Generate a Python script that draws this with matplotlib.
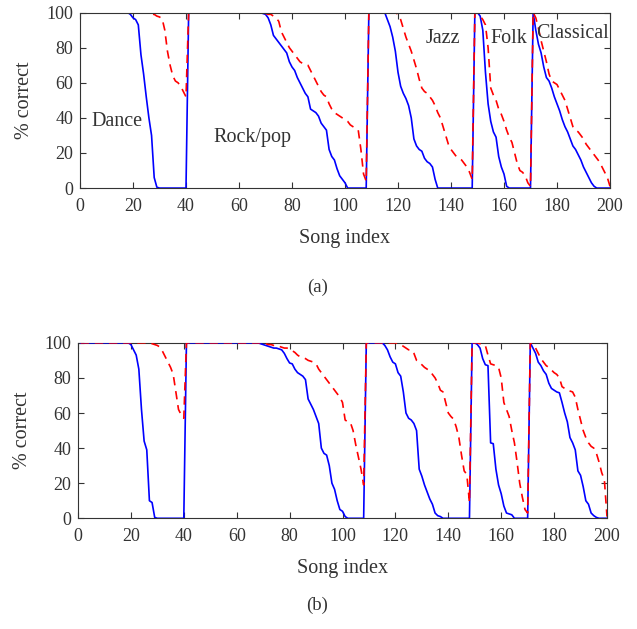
import numpy as np
import matplotlib.pyplot as plt

plt.rcParams['font.family'] = ['Liberation Serif', 'DejaVu Serif']
plt.rcParams['text.color'] = '#333333'
plt.rcParams['axes.labelcolor'] = '#333333'
plt.rcParams['xtick.labelcolor'] = '#333333'
plt.rcParams['ytick.labelcolor'] = '#333333'

# song index 1..200, genres in blocks
genres = ["Dance", "Rock/pop", "Jazz", "Folk", "Classical"]
genre_sizes = [40, 68, 40, 22, 30]

# (a) % correct per song, sorted inside each genre
blue_a_dance = [100] * 18 + [99, 97, 96, 93, 76, 65, 52, 40, 30, 6, 0.5] + [0] * 11
red_a_dance = [100] * 26 + [99, 99, 98, 97.5, 96.5, 90, 78, 70, 64, 61, 60, 58, 55, 52]
blue_a_rock = [100] * 28 + [99.5, 99, 97, 93, 87, 85, 83, 81, 79, 77, 72, 69, 67, 63, 60,
                            57, 54, 52, 45, 44, 43, 41, 37, 35, 33, 22, 18, 16, 11, 7,
                            5, 3, 0] + [0] * 7
red_a_rock = [100] * 29 + [99.5, 99, 99, 98, 97, 95, 89, 86, 83, 80, 78, 76, 74, 72, 71,
                           70.5, 70, 67, 64, 61, 58, 55, 53, 52, 48, 45, 43, 42, 41, 40,
                           39, 38, 36, 35, 34, 33, 22, 8, 4]
blue_a_jazz = [100] * 7 + [96, 92, 86, 78, 66, 58, 54, 51, 47, 40, 28, 24, 22, 21, 17,
                           15, 14, 12, 5, 0] + [0] * 13
red_a_jazz = [100] * 11 + [99, 96, 91, 86, 82, 78, 73, 68, 62, 57, 55, 54, 52, 50, 47,
                           43, 40, 35, 30, 25, 22, 20, 18, 17, 16, 14, 12, 9, 5]
blue_a_folk = [100, 100, 98, 90, 66, 48, 38, 32, 29, 18, 12, 8, 1] + [0] * 9
red_a_folk = [100, 99.5, 98, 96, 93, 80, 57, 53, 50, 45, 42, 38, 33, 29, 26, 20, 14, 10,
              9, 7, 3, 1]
blue_a_class = [100, 90, 82, 77, 69, 63, 61, 57, 52, 48, 44, 39, 35, 32, 28, 24, 22, 19,
                16, 12, 9, 6, 3, 1] + [0] * 6
red_a_class = [100, 97, 91, 84, 78, 72, 65, 61, 60, 59, 56, 53, 50, 45, 40, 35, 33, 32,
               30, 28, 25, 23, 21, 19, 17, 15, 12, 9, 6, 1]

# (b)
blue_b_dance = [100] * 19 + [99, 96, 93, 85, 62, 44, 39, 10, 9, 0.5] + [0] * 11
red_b_dance = [100] * 27 + [99.5, 99, 98.5, 97.5, 95, 92, 89, 86, 82, 72, 62, 59, 57]
blue_b_rock = [100] * 28 + [99.5, 99, 98.5, 98, 97.5, 97, 97, 96.5, 96, 94, 91, 88.5, 88,
                            85, 83, 82, 81, 79, 68, 65, 62, 58, 54, 40, 37, 36, 30, 20,
                            16.5, 10, 5, 4, 1] + [0] * 7
red_b_rock = [100] * 30 + [99.5, 99, 99, 98.5, 98.5, 98, 97.5, 97, 97, 96.5, 95.5, 94.5,
                           93, 92, 91.5, 91, 90, 89.5, 89, 88, 85, 83, 81, 79, 77, 75,
                           73, 71, 69, 66, 56, 55, 54.5, 50, 42, 35, 28, 19]
blue_b_jazz = [100] * 7 + [98.5, 96, 92, 89, 88, 83, 81, 72, 60, 57, 56, 54, 50, 28, 24,
                           19, 15, 11, 8, 3, 1.5, 1, 0] + [0] * 10
red_b_jazz = [100] * 12 + [99.5, 99, 98, 97, 96, 96, 94, 90, 89, 87.5, 86, 85, 84, 82,
                           80, 77, 73, 72, 66, 60, 58, 56.5, 52, 46, 36, 27, 25, 9]
blue_b_folk = [100, 100, 99, 97, 91, 87.5, 87, 43, 42.5, 28, 19, 14, 7, 3, 2.5, 2, 0] + [0] * 5
red_b_folk = [100, 100, 100, 99.5, 99, 98.5, 93, 88, 87.5, 87, 86, 80, 66, 62, 58, 50,
              43, 32, 20, 12, 5, 3]
blue_b_class = [100, 97, 94, 89, 87, 84, 82, 77, 74, 73, 72, 71.5, 66, 60, 55, 46, 43,
                39, 27, 24.5, 18, 10, 8, 3, 1.5, 0.5] + [0] * 4
red_b_class = [100, 99, 97, 94, 91, 89, 87, 86, 84.5, 83, 82, 80, 75, 74, 73, 72.5, 72,
               69, 62, 56, 50, 46, 43, 41, 40, 37, 32, 26, 22, 1]

blue_a = np.concatenate([blue_a_dance, blue_a_rock, blue_a_jazz, blue_a_folk, blue_a_class])
red_a = np.concatenate([red_a_dance, red_a_rock, red_a_jazz, red_a_folk, red_a_class])
blue_b = np.concatenate([blue_b_dance, blue_b_rock, blue_b_jazz, blue_b_folk, blue_b_class])
red_b = np.concatenate([red_b_dance, red_b_rock, red_b_jazz, red_b_folk, red_b_class])
songs = np.arange(1, 201)

# genre label positions (song index, % correct)
label_pos = [(14, 38), (65, 29), (137, 85), (162, 85), (186, 88)]

fig = plt.figure(figsize=(6.37, 6.29), dpi=100)
ax_a = fig.add_axes([80 / 637, 0.701, 530 / 637, 0.279])
ax_b = fig.add_axes([78 / 637, 0.176, 529 / 637, 0.279])

# in (b) the curves sit on top of the frame
for ax, blue, red, z in [(ax_a, blue_a, red_a, 2), (ax_b, blue_b, red_b, 3)]:
    ax.plot(songs, blue, color="blue", lw=1.2, zorder=z)
    ax.plot(songs, red, color="red", ls=(0, (5, 3.5)), lw=1.2, zorder=z)
    ax.set_xlim(0, 200)
    ax.set_ylim(0, 100)
    ax.set_xticks(range(0, 201, 20))
    ax.set_yticks(range(0, 101, 20))
    ax.tick_params(direction="in", top=True, right=True, labelsize=13, length=4,
                   color="#333333")
    ax.tick_params(axis="x", pad=7)
    ax.tick_params(axis="y", pad=5)
    for s in ax.spines.values():
        s.set_color("#333333")
    ax.set_xlabel("Song index", fontsize=14.5, labelpad=10)
    ax.set_ylabel("% correct", fontsize=14.5, labelpad=9)

fig.text(318 / 637, 1 - 287 / 629, "(a)", ha="center", va="center", fontsize=13.5)
fig.text(317 / 637, 1 - 605 / 629, "(b)", ha="center", va="center", fontsize=13.5)

for name, (x, y) in zip(genres, label_pos):
    ax_a.text(x, y, name, ha="center", va="center", fontsize=14.5)

fig.savefig("out.png", dpi=100)
